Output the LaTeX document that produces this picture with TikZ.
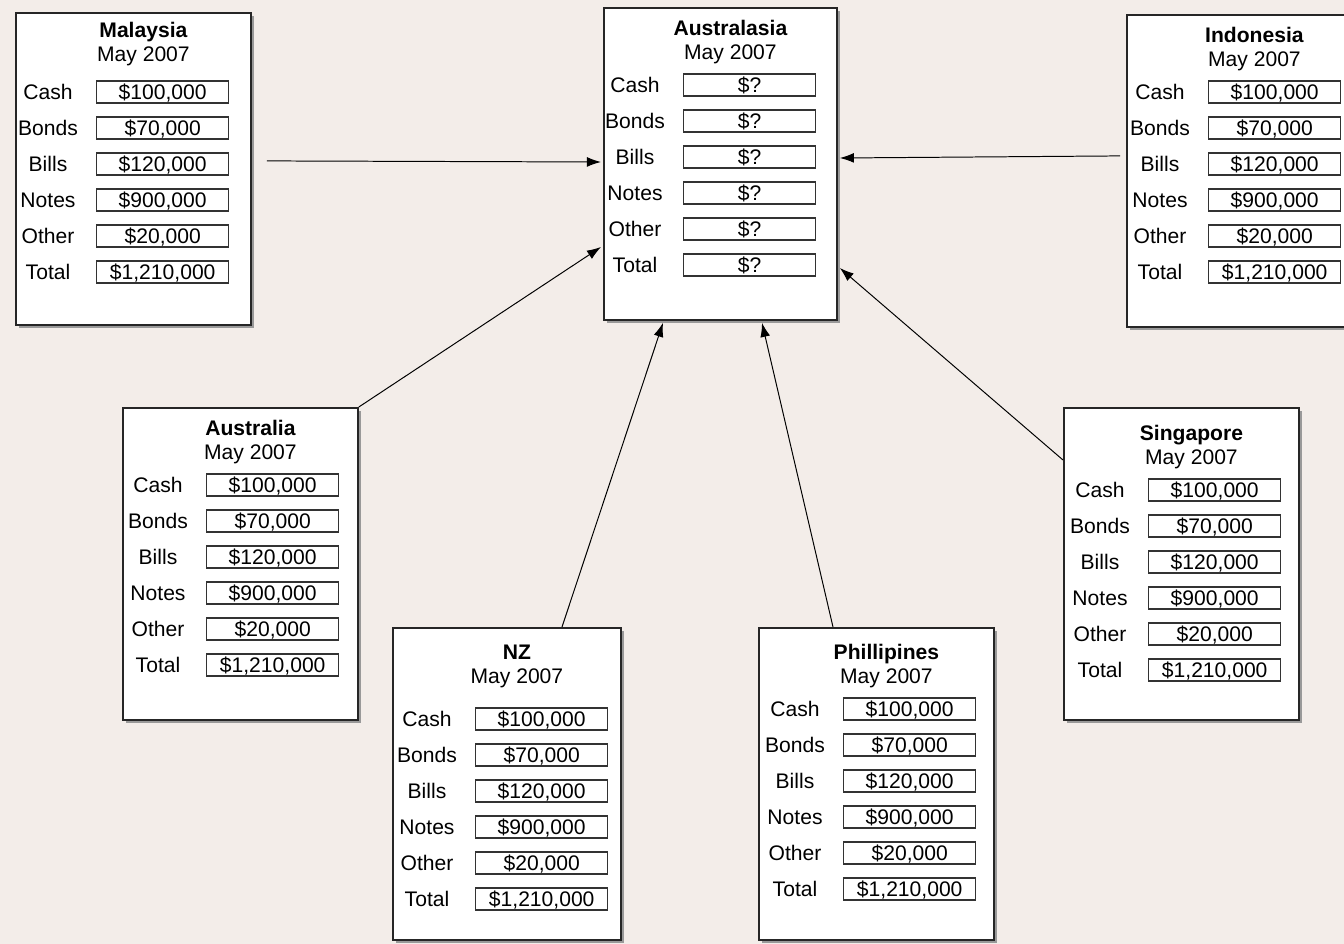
\documentclass[tikz,border=0pt]{standalone}
\usepackage{fontspec}
\setmainfont{Liberation Sans}
\usetikzlibrary{arrows.meta,calc,shadows}

\definecolor{paper}{RGB}{243,237,233}

% rows of one account sheet
\newcommand{\fullrows}{Cash/\$100{,}000,Bonds/\$70{,}000,Bills/\$120{,}000,Notes/\$900{,}000,Other/\$20{,}000,Total/\$1{,}210{,}000}
\newcommand{\openrows}{Cash/\$?,Bonds/\$?,Bills/\$?,Notes/\$?,Other/\$?,Total/\$?}

% #1 id, #2 x, #3 y, #4 width, #5 title, #6 title dy, #7 first row dy, #8 label dx, #9 rows
\newcommand{\acct}[9]{%
  \node[acct,minimum width=#4*0.25mm] (#1) at (#2,#3) {};
  \node[ttl] (#1-name) at ($(#1.north)+(10,#6)$) {#5};
  \node[sub] (#1-date) at ($(#1-name)+(0,24)$) {May 2007};
  \foreach \lab/\val [count=\i from 0] in #9 {
    \node[lbl] (#1-l\i) at ($(#1.north west)+(#8,#7+36*\i)$) {\lab};
    \node[valbox] (#1-v\i) at ($(#1.north west)+(#8+48,#7+36*\i)$) {\val};
  }%
}

\begin{document}
\begin{tikzpicture}[x=0.25mm,y=-0.25mm,
  acct/.style={draw=black!85,line width=1.3pt,fill=white,anchor=north west,inner sep=0pt,
    minimum height=312*0.25mm,
    drop shadow={shadow xshift=2.2pt,shadow yshift=-2.2pt,fill=black!40,opacity=1}},
  ttl/.style={font=\fontsize{15}{17}\selectfont\bfseries,inner sep=0pt,text height=10.5pt,text depth=0pt},
  sub/.style={font=\fontsize{15}{17}\selectfont,inner sep=0pt,text height=10.5pt,text depth=0pt},
  lbl/.style={font=\fontsize{15}{17}\selectfont,inner sep=0pt,text height=10.5pt,text depth=0pt},
  valbox/.style={draw=black!80,line width=1pt,fill=white,anchor=west,inner sep=0pt,
    minimum width=132*0.25mm,minimum height=22*0.25mm,text height=10.5pt,text depth=0pt,
    font=\fontsize{15}{17}\selectfont},
  arrow/.style={-{Latex[length=10pt,width=7pt]},line width=0.7pt}
]
\useasboundingbox (0,0) rectangle (1344,944);
\fill[paper] (0,0) rectangle (1344,944);

\acct{mal}{15}{12}{235}{Malaysia}{18}{80}{33}{\fullrows}
\acct{aa}{603}{7}{233}{Australasia}{21}{78}{32}{\openrows}
\acct{ind}{1126}{14}{235}{Indonesia}{21}{78}{34}{\fullrows}
\acct{aus}{122}{407}{235}{Australia}{21}{78}{36}{\fullrows}
\acct{nz}{392}{627}{228}{NZ}{25}{92}{35}{\fullrows}
\acct{ph}{758}{627}{235}{Phillipines}{25}{82}{37}{\fullrows}
\acct{sg}{1063}{407}{235}{Singapore}{26}{83}{37}{\fullrows}

\draw[arrow] ($(mal.east)+(15,-8)$) -- ($(aa.north west)+(-2,155)$);
\draw[arrow] ($(ind.west)+(-6,-15)$) -- ($(aa.north east)+(2,151)$);
\draw[arrow] (aus.north east) -- ($(aa.north west)+(-2,240)$);
\draw[arrow] ($(nz.north west)+(170,0)$) -- ($(aa.south west)+(60,2)$);
\draw[arrow] ($(ph.north west)+(75,0)$) -- ($(aa.south west)+(159,2)$);
\draw[arrow] ($(sg.north west)+(0,53)$) -- ($(aa.north east)+(2,261)$);
\end{tikzpicture}
\end{document}
